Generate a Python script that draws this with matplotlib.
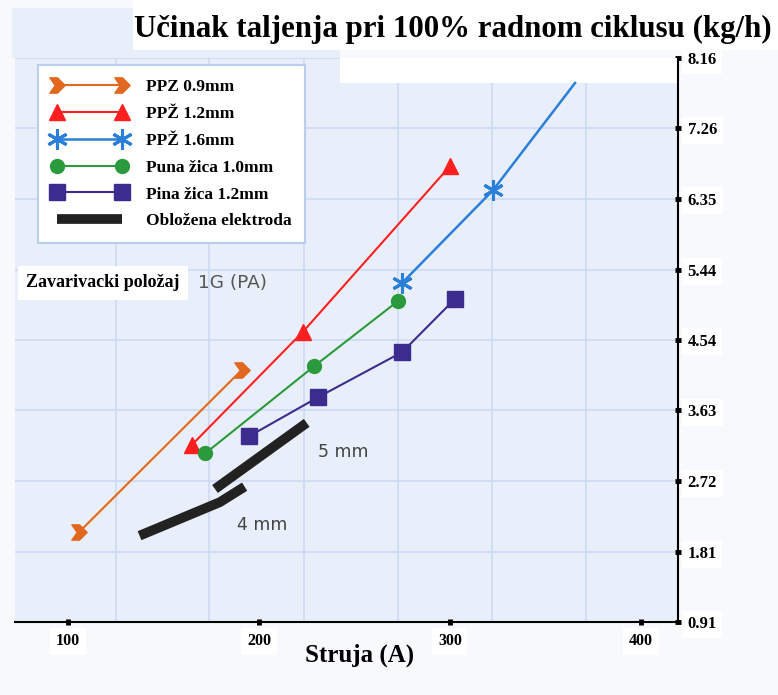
import matplotlib.pyplot as plt
import numpy as np
from matplotlib.path import Path
from matplotlib.patches import Rectangle

# Struja (A) / ucinak taljenja (kg/h), ocitano sa slike
ppz09_x = [106, 191]
ppz09_y = [2.07, 4.15]
ppz12_x = [165, 223, 300]
ppz12_y = [3.19, 4.64, 6.77]
ppz16_x = [275, 322.5, 365.5]
ppz16_y = [5.27, 6.46, 7.84]
puna10_x = [172, 229, 273]
puna10_y = [3.08, 4.20, 5.04]
pina12_x = [195, 231, 275, 302.5]
pina12_y = [3.30, 3.80, 4.38, 5.06]
el5_x = [177, 225]
el5_y = [2.62, 3.47]
el4_x = [137.5, 179.5, 192.5]
el4_y = [2.02, 2.45, 2.65]

xticks = [100, 200, 300, 400]
yticks = [0.91, 1.81, 2.72, 3.63, 4.54, 5.44, 6.35, 7.26, 8.16]
grid_x = [125, 174, 223.5, 273, 322, 371]

serif = 'Liberation Serif'

# chevron marker (arrow fletching)
v = np.array([(-1, 1), (0, 1), (1, 0), (0, -1), (-1, -1), (-0.3, 0), (-1, 1)], float)
chevron = Path(v, closed=True)

fig = plt.figure(figsize=(7.78, 6.95), dpi=100, facecolor='#f7f9fd')
ax = fig.add_axes([0.0193, 0.105, 0.8522, 0.8115])
ax.set_facecolor('#e9effa')

# background pieces of the scanned sheet
fig.patches.append(Rectangle((12 / 778, 1 - 58 / 695), 328 / 778, 50 / 695,
                             transform=fig.transFigure, facecolor='#e9effa',
                             edgecolor='none', zorder=-1))
fig.patches.append(Rectangle((133 / 778, 1 - 50 / 695), 645 / 778, 50 / 695,
                             transform=fig.transFigure, facecolor='white',
                             edgecolor='none', zorder=-0.5))
ax.add_patch(Rectangle((0.49, 0.956), 0.51, 0.044, transform=ax.transAxes,
                       facecolor='white', edgecolor='none', zorder=1.7))

ax.plot(ppz09_x, ppz09_y, color='#e2671f', lw=1.5, marker=chevron, ms=11,
        mec='#e2671f', label='PPZ 0.9mm')
ax.plot(ppz12_x, ppz12_y, color='#ff1f1f', lw=1.5, marker='^', ms=12,
        label='PPŽ 1.2mm')
ax.plot(ppz16_x, ppz16_y, color='#2a80d8', lw=1.8, marker=(6, 2, 0), ms=15,
        mew=2.2, markevery=[0, 1], label='PPŽ 1.6mm')
ax.plot(puna10_x, puna10_y, color='#2a9a3c', lw=1.5, marker='o', ms=10,
        label='Puna žica 1.0mm')
ax.plot(pina12_x, pina12_y, color='#3b2c8e', lw=1.5, marker='s', ms=11,
        label='Pina žica 1.2mm')
ax.plot(el5_x, el5_y, color='#222222', lw=7, solid_capstyle='butt',
        label='Obložena elektroda')
ax.plot(el4_x, el4_y, color='#222222', lw=7, solid_capstyle='butt')

ax.text(231, 3.10, '5 mm', fontsize=12.5, color='#444444', va='center')
ax.text(188.5, 2.16, '4 mm', fontsize=12.5, color='#444444', va='center')
ax.text(78, 5.27, 'Zavarivacki položaj', family=serif, fontsize=13,
        fontweight='bold', va='center',
        bbox=dict(facecolor='white', edgecolor='none', pad=6))
ax.text(168, 5.27, '1G (PA)', fontsize=13.3, color='#555555', va='center')

ax.set_xlim(72.3, 419.4)
ax.set_ylim(0.91, 8.16)
ax.set_xticks(xticks)
ax.set_xticklabels([str(t) for t in xticks])
ax.set_yticks(yticks)
ax.set_yticklabels([f'{t:.2f}' for t in yticks])
ax.set_xticks(grid_x, minor=True)
ax.yaxis.tick_right()
ax.tick_params(which='major', direction='inout', length=4, width=3.5,
               color='black')
ax.tick_params(which='minor', length=0)
ax.tick_params(axis='x', pad=6)
ax.tick_params(axis='y', pad=5)
for lbl in ax.get_xticklabels():
    lbl.set_fontsize(11.5)
for lbl in ax.get_yticklabels():
    lbl.set_fontsize(12)
for lbl in ax.get_xticklabels() + ax.get_yticklabels():
    lbl.set_family(serif)
    lbl.set_fontweight('bold')
    lbl.set_bbox(dict(facecolor='white', edgecolor='none', pad=4))

ax.grid(axis='y', which='major', color='#cbdaf3', lw=1.2)
ax.grid(axis='x', which='minor', color='#cbdaf3', lw=1.2)
for s in ['left', 'top']:
    ax.spines[s].set_visible(False)
for s in ['right', 'bottom']:
    ax.spines[s].set_linewidth(1.5)

ax.set_xlabel('Struja (A)', family=serif, fontsize=18, fontweight='bold')
ax.xaxis.set_label_coords(0.519, -0.0585)
ax.xaxis.label.set_va('center')

leg = ax.legend(loc='upper left', bbox_to_anchor=(0.035, 0.988),
                borderaxespad=0, numpoints=2, handlelength=4.3,
                handletextpad=1.1, labelspacing=0.62, borderpad=0.8,
                fancybox=False, framealpha=1,
                prop=dict(family=serif, size=12.5, weight='bold'))
leg.get_frame().set_edgecolor('#b9cdef')
leg.get_frame().set_linewidth(1.5)

fig.text(0.992, 0.958, 'Učinak taljenja pri 100% radnom ciklusu (kg/h)',
         ha='right', va='center', family=serif, fontsize=22.2, fontweight='bold')

fig.savefig('out.png', dpi=100, facecolor=fig.get_facecolor())
